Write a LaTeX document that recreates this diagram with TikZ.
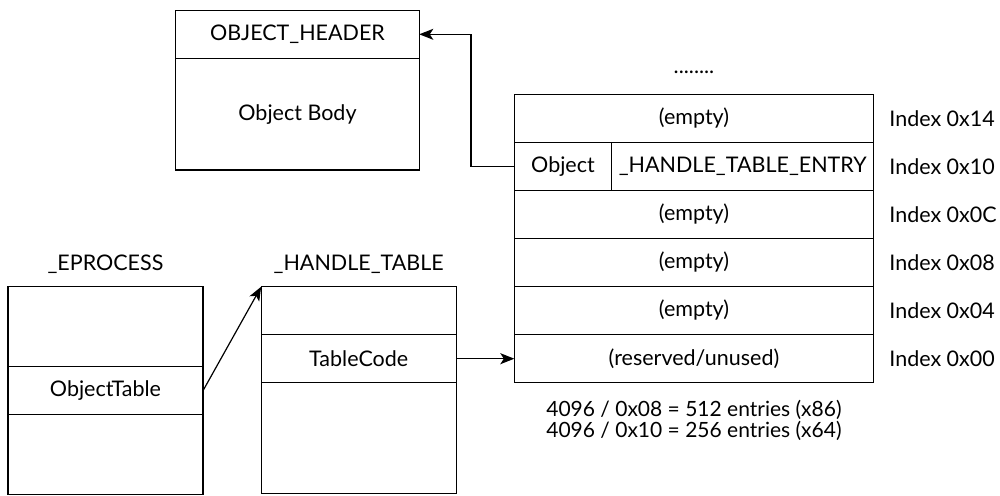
\documentclass[tikz,border=0pt]{standalone}
\usepackage{fontspec}
\setmainfont{Lato}
\usetikzlibrary{arrows.meta,positioning}
\tikzset{
        cell/.style = {draw, rectangle, line width=1.2pt,
            inner sep=0pt, outer sep=0pt,
            minimum width=195pt,
            font=\fontsize{21.5}{25}\selectfont},
        slot/.style = {cell, minimum width=359.4pt, minimum height=48pt},
        plain/.style = {inner sep=0pt, font=\fontsize{21.5}{25}\selectfont},
        arrow/.style = {draw, line width=1.2pt, -{Stealth[length=14pt,width=11pt,inset=3.5pt]}},
    }

\begin{document}
\begin{tikzpicture}[x=1pt,y=-1pt]
    \useasboundingbox (0,0) rectangle (1000,495);

    % the object
    \node[cell, minimum width=243.6pt, minimum height=48pt] (hdr) at (297.5,34.3) {OBJECT\_HEADER};
    \node[cell, minimum width=243.6pt, minimum height=111.7pt, below=0pt of hdr] (body) {Object Body};

    % one page of handle table entries
    \node[plain] (dots) at (694,72.7) {........};
    \node[slot] (e14) at (694,118.3) {(empty)};
    \node[cell, minimum width=97.4pt, minimum height=48pt, anchor=north west] (obj) at (e14.south west) {Object};
    \node[cell, minimum width=262pt, minimum height=48pt, right=0pt of obj] (hte) {\_HANDLE\_TABLE\_ENTRY};
    \node[slot, below=48pt of e14] (e0c) {(empty)};
    \node[slot, below=0pt of e0c] (e08) {(empty)};
    \node[slot, below=0pt of e08] (e04) {(empty)};
    \node[slot, below=0pt of e04] (e00) {(reserved/unused)};
    \foreach \n/\i in {e14/14, hte/10, e0c/0C, e08/08, e04/04, e00/00}
        \node[plain, right=15.5pt of \n] (idx\i) {Index 0x\i};
    \node[plain, align=center, font=\fontsize{21}{16.7}\selectfont] (size) at (694,420.5)
        {4096 / 0x08 = 512 entries (x86)\\4096 / 0x10 = 256 entries (x64)};

    % _EPROCESS
    \node[cell, minimum height=80pt] (ep1) at (105.5,326.7) {};
    \node[cell, minimum height=48pt, below=0pt of ep1] (ot) {ObjectTable};
    \node[cell, minimum height=80pt, below=0pt of ot] (ep3) {};
    \node[plain, anchor=base] (eplbl) at (105.5,270) {\_EPROCESS};

    % _HANDLE_TABLE
    \node[cell, minimum height=48pt] (ht1) at (358.7,310.7) {};
    \node[cell, minimum height=48pt, below=0pt of ht1] (tc) {TableCode};
    \node[cell, minimum height=111pt, below=0pt of tc] (ht3) {};
    \node[plain, anchor=base] (htlbl) at (358.7,270) {\_HANDLE\_TABLE};

    % pointers
    \draw[arrow] (ot.east) -- (ht1.north west);
    \draw[arrow] (tc.east) -- (tc.east -| e00.west);
    \draw[arrow] (obj.west) -- ++(-43.3,0) |- (hdr.east);
\end{tikzpicture}
\end{document}
